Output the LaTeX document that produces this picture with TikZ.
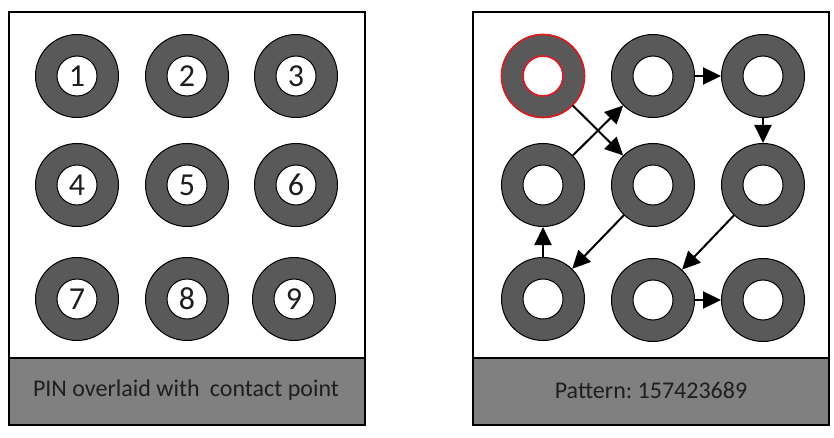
\documentclass[tikz,border=0pt]{standalone}
\usepackage{fontspec}
\setmainfont{Carlito}
\frenchspacing
\usetikzlibrary{arrows.meta}
\definecolor{ringgray}{HTML}{595959}
\definecolor{bargray}{HTML}{808080}
\definecolor{hotred}{HTML}{E8141C}
\definecolor{ink}{HTML}{1E1E1E}
\tikzset{
  panel/.style={draw=black, line width=1.5pt, fill=white},
  bar/.style={draw=black, line width=1.5pt, fill=bargray},
  ring/.style={circle, draw=black, line width=1pt, fill=ringgray, minimum size=83pt, inner sep=0pt},
  hole/.style={circle, draw=black, line width=1pt, fill=white, minimum size=40pt, inner sep=0pt,
    font=\fontsize{32}{32}\selectfont, text=ink},
  marked/.style={draw=hotred, line width=1.6pt},
  caption/.style={font=\fontsize{24}{28}\selectfont, text=ink},
  move/.style={line width=2pt, -{Triangle[length=18pt,width=17pt]}},
}
\begin{document}
\begin{tikzpicture}[x=1pt,y=-1pt]
  \useasboundingbox (0,0) rectangle (834,438);

  % left panel: numbered keypad
  \draw[panel] (9,12) rectangle (365,425);
  \draw[bar] (9,358) rectangle (365,425);
  \node[caption] (capL) at (186,390) {PIN overlaid with\hspace{0.2em} contact point};
  \foreach \n/\x/\y in {1/77/76, 2/187/76, 3/296/76,
                        4/77/185, 5/187/185, 6/296/185,
                        7/77/299, 8/187/299, 9/294/299} {
    \node[ring] (a\n) at (\x,\y) {};
    \node[hole] (ah\n) at (\x,\y) {\n};
  }

  % right panel: unlock pattern
  \draw[panel] (473,12) rectangle (829,425);
  \draw[bar] (473,358) rectangle (829,425);
  \node[caption] (capR) at (651,390) {Pattern: 157423689};
  \foreach \n/\x/\y in {1/543/76, 2/653/76, 3/763/76,
                        4/543/185, 5/653/185, 6/763/185,
                        7/543/299, 8/653/300, 9/763/300} {
    \node[ring] (b\n) at (\x,\y) {};
    \node[hole] (bh\n) at (\x,\y) {};
  }
  % start point highlighted
  \node[ring, marked] (start) at (b1) {};
  \node[hole, marked] (starth) at (b1) {};

  % pattern strokes
  \draw[move] (b1) -- (b5);
  \draw[move] (b5) -- (b7);
  \draw[move] (b7) -- (b4);
  \draw[move] (b4) -- (b2);
  \draw[move] (b2) -- (b3);
  \draw[move] (b3) -- (b6);
  \draw[move] (b6) -- (b8);
  \draw[move] (b8) -- (b9);
\end{tikzpicture}
\end{document}
